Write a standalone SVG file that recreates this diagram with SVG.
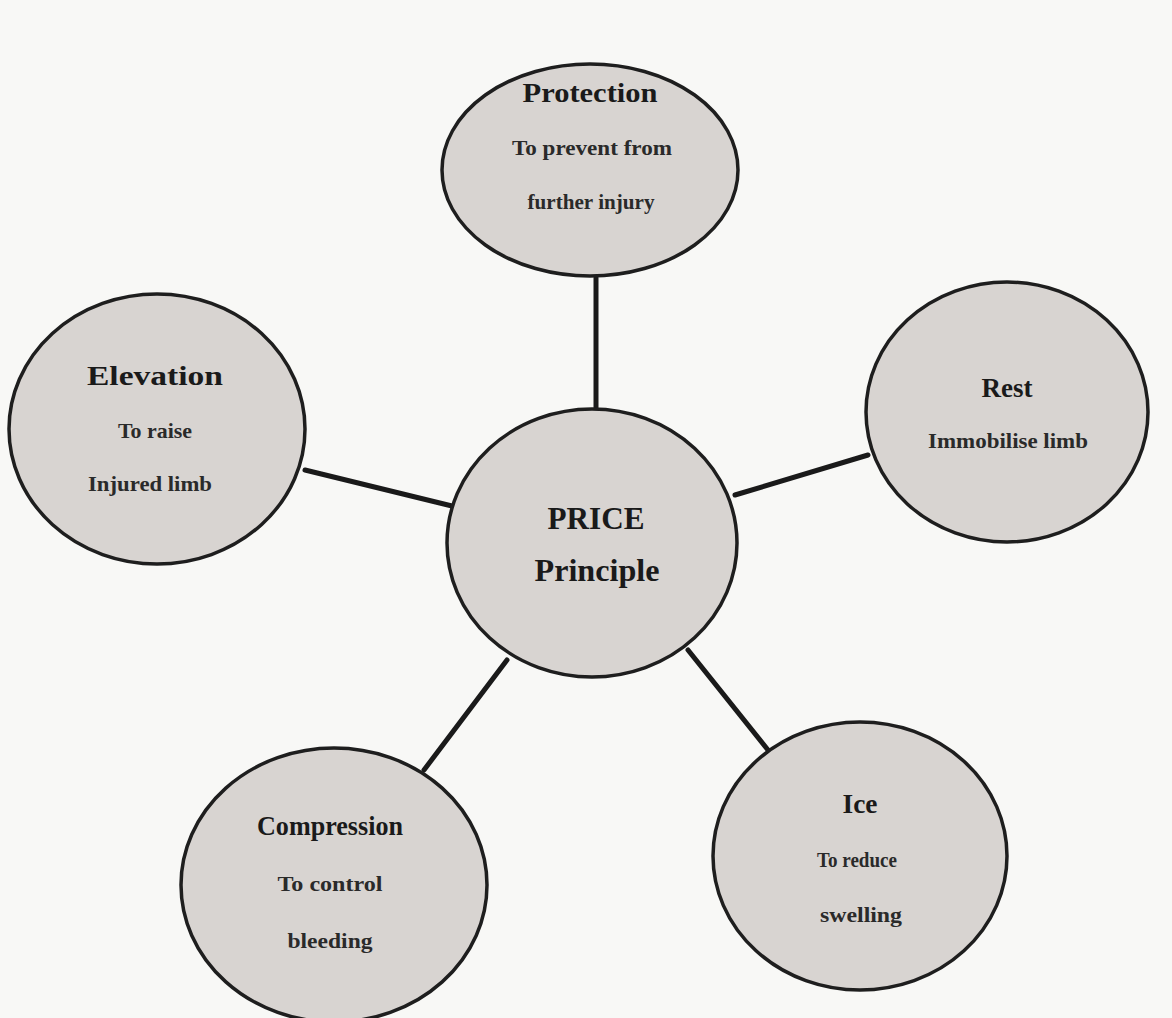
<svg xmlns="http://www.w3.org/2000/svg" width="1172" height="1018" viewBox="0 0 1172 1018">
<style>
.node ellipse{fill:#d8d4d1;stroke:#1e1e1e;stroke-width:3.5}
.t{font-family:"Liberation Serif","Times New Roman",serif;font-weight:bold;fill:#1a1a1a;text-anchor:middle}
.s{font-family:"Liberation Serif","Times New Roman",serif;font-weight:bold;fill:#2a2a2a;text-anchor:middle}
.edges line{stroke:#1a1a1a;stroke-width:5;stroke-linecap:round}
</style>
<rect width="1172" height="1018" fill="#f8f8f6"/>
<g class="edges" id="connectors">
<line x1="596" y1="278" x2="596" y2="410"/>
<line x1="305" y1="470" x2="452" y2="506"/>
<line x1="868" y1="455" x2="735" y2="495"/>
<line x1="424" y1="770" x2="507" y2="660"/>
<line x1="768" y1="750" x2="688" y2="650"/>
</g>
<g class="node" id="protection">
<ellipse cx="590" cy="170" rx="148" ry="106"/>
<text class="t" x="590" y="102" font-size="27" textLength="135" lengthAdjust="spacingAndGlyphs">Protection</text>
<text class="s" x="592" y="155" font-size="21" textLength="160" lengthAdjust="spacingAndGlyphs">To prevent from</text>
<text class="s" x="591" y="209" font-size="21" textLength="127" lengthAdjust="spacingAndGlyphs">further injury</text>
</g>
<g class="node" id="elevation">
<ellipse cx="157" cy="429" rx="148" ry="135"/>
<text class="t" x="155" y="385" font-size="27" textLength="136" lengthAdjust="spacingAndGlyphs">Elevation</text>
<text class="s" x="155" y="438" font-size="21" textLength="74" lengthAdjust="spacingAndGlyphs">To raise</text>
<text class="s" x="150" y="491" font-size="21" textLength="124" lengthAdjust="spacingAndGlyphs">Injured limb</text>
</g>
<g class="node" id="rest">
<ellipse cx="1007" cy="412" rx="141" ry="130"/>
<text class="t" x="1007" y="397" font-size="27" textLength="51" lengthAdjust="spacingAndGlyphs">Rest</text>
<text class="s" x="1008" y="448" font-size="20" textLength="160" lengthAdjust="spacingAndGlyphs">Immobilise limb</text>
</g>
<g class="node" id="price">
<ellipse cx="592" cy="543" rx="145" ry="134"/>
<text class="t" x="596" y="529" font-size="31" textLength="97" lengthAdjust="spacingAndGlyphs">PRICE</text>
<text class="t" x="597" y="581" font-size="31" textLength="125" lengthAdjust="spacingAndGlyphs">Principle</text>
</g>
<g class="node" id="compression">
<ellipse cx="334" cy="885" rx="153" ry="137"/>
<text class="t" x="330" y="835" font-size="27" textLength="146" lengthAdjust="spacingAndGlyphs">Compression</text>
<text class="s" x="330" y="891" font-size="21" textLength="105" lengthAdjust="spacingAndGlyphs">To control</text>
<text class="s" x="330" y="948" font-size="21" textLength="85" lengthAdjust="spacingAndGlyphs">bleeding</text>
</g>
<g class="node" id="ice">
<ellipse cx="860" cy="856" rx="147" ry="134"/>
<text class="t" x="860" y="813" font-size="27" textLength="35" lengthAdjust="spacingAndGlyphs">Ice</text>
<text class="s" x="857" y="867" font-size="20" textLength="80" lengthAdjust="spacingAndGlyphs">To reduce</text>
<text class="s" x="861" y="922" font-size="21" textLength="82" lengthAdjust="spacingAndGlyphs">swelling</text>
</g>
</svg>
